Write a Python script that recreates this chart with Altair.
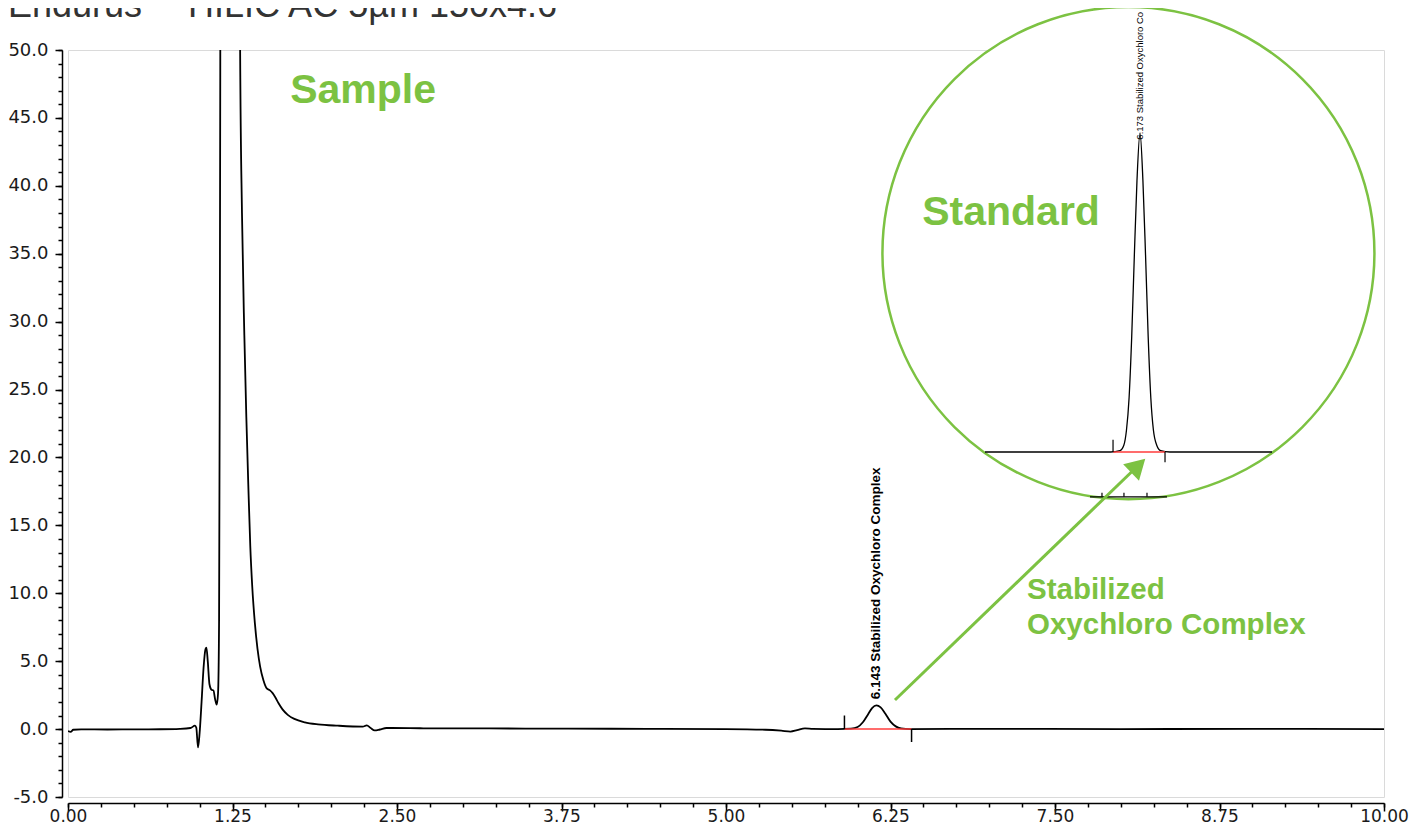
import altair as alt
import pandas as pd

GREEN = "#7cc242"
FONT = "Liberation Sans"
TICK_FONT = "DejaVu Sans"

# ---------------- data ----------------
# Sample chromatogram (time in min, signal in mAU)
sample_time = [0.00, 0.02, 0.04, 0.10, 0.30, 0.50, 0.70, 0.85, 0.93, 0.965, 0.975, 0.988,
               1.000, 1.015, 1.030, 1.045, 1.052, 1.062, 1.075, 1.090, 1.105, 1.118, 1.130,
               1.140, 1.148, 1.153, 1.157, 1.160, 1.230, 1.300, 1.308, 1.322, 1.340, 1.355,
               1.370, 1.385, 1.400, 1.420, 1.440, 1.460, 1.485, 1.510, 1.535, 1.555, 1.575,
               1.600, 1.630, 1.670, 1.720, 1.800, 1.900, 2.050, 2.240, 2.270, 2.300, 2.330,
               2.370, 2.420, 2.700, 3.200, 3.800, 4.400, 5.000, 5.300, 5.420, 5.490, 5.540,
               5.600, 5.660, 5.850, 5.950, 6.000, 6.040, 6.080, 6.110, 6.143, 6.175, 6.210,
               6.250, 6.290, 6.330, 6.400, 7.000, 8.000, 9.000, 10.000]
sample_signal = [-0.15, -0.2, -0.05, -0.02, -0.03, -0.02, -0.01, 0.02, 0.08, 0.25, 0.1, -1.35,
                 -0.3, 2.0, 4.5, 5.9, 6.0, 5.0, 3.3, 2.9, 2.85, 2.2, 1.8,
                 2.6, 8.0, 25.0, 48.0, 70.0, 150.0, 70.0, 50.0, 38.0, 29.0, 23.0,
                 18.0, 13.5, 10.5, 7.8, 5.9, 4.6, 3.6, 3.0, 2.85, 2.65, 2.35,
                 1.9, 1.45, 1.05, 0.75, 0.5, 0.35, 0.25, 0.18, 0.28, 0.08, -0.1,
                 -0.03, 0.08, 0.06, 0.05, 0.03, 0.02, 0.0, -0.05, -0.12, -0.18, -0.08,
                 0.05, 0.02, 0.0, 0.03, 0.15, 0.5, 1.1, 1.55, 1.75, 1.6, 1.15,
                 0.55, 0.2, 0.05, 0.0, 0.02, 0.0, 0.02, 0.0]

# Standard chromatogram shown in the circular inset
std_time = [4.995, 5.500, 5.950, 6.020, 6.050, 6.070, 6.090, 6.110, 6.130, 6.150, 6.173,
            6.195, 6.215, 6.235, 6.255, 6.275, 6.300, 6.330, 6.400, 7.176]
std_signal = [0.0, 0.0, 0.0, 0.1, 0.5, 1.6, 4.0, 8.5, 14.5, 20.0, 23.5,
              20.0, 14.5, 8.5, 4.0, 1.6, 0.5, 0.1, 0.0, 0.0]

# Peak labels / integration marks
peak_labels = ["6.143  Stabilized Oxychloro Complex"]
peak_label_time = [6.143]
std_label = ["6.173  Stabilized Oxychloro Complex"]
sample_int_start, sample_int_end = 5.90, 6.41
std_int_start, std_int_end = 5.968, 6.363

# Axis ticks
x_major = [0.0, 1.25, 2.5, 3.75, 5.0, 6.25, 7.5, 8.75, 10.0]
x_minor = [i * 0.25 for i in range(41)]
y_major = [-5, 0, 5, 10, 15, 20, 25, 30, 35, 40, 45, 50]
y_minor = list(range(-5, 51))

chart_title = "Endurus\u2122 HILIC AC 5\u00b5m 150x4.6"

X_DOM = [0, 10]
Y_DOM = [-5, 50]
IX_DOM = [-1.973, 8.027]
IY_DOM = [-25.4, 29.6]

# ---------------- helpers ----------------
def xs(dom):
    return alt.Scale(domain=dom, nice=False, zero=False)


def X(field, dom=X_DOM, axis=None):
    return alt.X(field, type="quantitative", scale=xs(dom), axis=axis)


def Y(field, dom=Y_DOM, axis=None):
    return alt.Y(field, type="quantitative", scale=xs(dom), axis=axis)


sample_df = pd.DataFrame({"t": sample_time, "v": sample_signal})
std_df = pd.DataFrame({"t": std_time, "v": std_signal})

ax_common = dict(title=None, grid=False, tickColor="black", domainColor="black",
                 tickWidth=1.5, domainWidth=1.5, labelFont=TICK_FONT,
                 labelColor="#1a1a1a", offset=6)

x_axis_major = alt.Axis(values=x_major, format=".2f", orient="bottom", tickSize=8,
                        labelPadding=-3, labelFontSize=17, labelFlush=False,
                        labelOverlap=False, **ax_common)
x_axis_minor = alt.Axis(values=x_minor, labels=False, domain=False, orient="bottom",
                        tickSize=4, **ax_common)
y_axis_major = alt.Axis(values=y_major, orient="left", tickSize=7,
                        labelExpr="replace(format(datum.value, '.1f'), '\u2212', '-')",
                        labelPadding=7, labelFontSize=18, labelFlush=False,
                        labelOverlap=False, **ax_common)
y_axis_minor = alt.Axis(values=y_minor, labels=False, domain=False, orient="left",
                        tickSize=4, **ax_common)

# ---------------- main (sample) layers ----------------
trace = alt.Chart(sample_df).mark_line(color="black", strokeWidth=1.8, clip=True,
                                        interpolate="monotone").encode(
    x=X("t", axis=x_axis_major), y=Y("v", axis=y_axis_major))

minor = alt.Chart(sample_df).mark_line(strokeOpacity=0).encode(
    x=X("t", axis=x_axis_minor), y=Y("v", axis=y_axis_minor))

red_df = pd.DataFrame({"t": [sample_int_start], "t2": [sample_int_end], "v": [0.0]})
red = alt.Chart(red_df).mark_rule(color="#ff3b3b", strokeWidth=1.5).encode(
    x=X("t"), x2="t2", y=Y("v"))

mark_df = pd.DataFrame({"t": [sample_int_start, sample_int_end],
                        "v": [0.0, 0.0], "v2": [1.0, -0.95]})
marks = alt.Chart(mark_df).mark_rule(color="black", strokeWidth=1.5).encode(
    x=X("t"), y=Y("v"), y2="v2")

lab_df = pd.DataFrame({"t": peak_label_time, "v": [2.2], "txt": peak_labels})
peak_lab = alt.Chart(lab_df).mark_text(angle=270, align="left", baseline="middle",
                                       font=FONT, fontSize=13.5, fontWeight="bold",
                                       color="black").encode(
    x=X("t"), y=Y("v"), text="txt:N")

main_below = alt.layer(trace, minor, red, marks, peak_lab).resolve_axis(
    x="independent", y="independent")

# ---------------- circle + inset (standard) ----------------
circ_df = pd.DataFrame({"t": [8.058], "v": [35.05]})
circle = alt.Chart(circ_df).mark_point(shape="circle", size=492 ** 2, filled=True,
                                       fill="white", stroke=GREEN, strokeWidth=2.5,
                                       opacity=1).encode(x=X("t"), y=Y("v"))

std_line = alt.Chart(std_df).mark_line(color="black", strokeWidth=1.3,
                                       interpolate="monotone").encode(
    x=X("t", IX_DOM), y=Y("v", IY_DOM))

std_red_df = pd.DataFrame({"t": [std_int_start], "t2": [std_int_end], "v": [0.0]})
std_red = alt.Chart(std_red_df).mark_rule(color="#ff3b3b", strokeWidth=1.5).encode(
    x=X("t", IX_DOM), x2="t2", y=Y("v", IY_DOM))

std_mark_df = pd.DataFrame({"t": [std_int_start, std_int_end], "v": [0.0, 0.0],
                            "v2": [0.9, -0.75]})
std_marks = alt.Chart(std_mark_df).mark_rule(color="black", strokeWidth=1.2).encode(
    x=X("t", IX_DOM), y=Y("v", IY_DOM), y2="v2")

std_lab_df = pd.DataFrame({"t": [6.173], "v": [23.0], "txt": std_label})
std_lab = alt.Chart(std_lab_df).mark_text(angle=270, align="left", baseline="middle",
                                          font=FONT, fontSize=9.5, color="black",
                                          limit=131, ellipsis="\u200b").encode(
    x=X("t", IX_DOM), y=Y("v", IY_DOM), text="txt:N")

std_ax_df = pd.DataFrame({"t": [5.793], "t2": [6.378], "v": [-3.3]})
std_ax = alt.Chart(std_ax_df).mark_rule(color="black", strokeWidth=1.2).encode(
    x=X("t", IX_DOM), x2="t2", y=Y("v", IY_DOM))
std_tick_df = pd.DataFrame({"t": [5.884, 6.051, 6.226], "v": [-3.3] * 3, "v2": [-3.0] * 3})
std_ticks = alt.Chart(std_tick_df).mark_rule(color="black", strokeWidth=1.2).encode(
    x=X("t", IX_DOM), y=Y("v", IY_DOM), y2="v2")

inset = alt.layer(std_ax, std_ticks, std_line, std_red, std_marks, std_lab)

# ---------------- annotations on top ----------------
arrow_df = pd.DataFrame({"t": [6.284, 8.091], "v": [2.14, 19.02]})
arrow = alt.Chart(arrow_df).mark_line(color=GREEN, strokeWidth=3).encode(
    x=X("t"), y=Y("v"))
head_df = pd.DataFrame({"t": [8.132], "v": [19.40]})
head = alt.Chart(head_df).mark_point(shape="triangle-up", size=520, angle=46, filled=True,
                                     color=GREEN, opacity=1).encode(x=X("t"), y=Y("v"))

big_df = pd.DataFrame({"t": [2.242, 7.166], "v": [46.98, 38.0], "txt": ["Sample", "Standard"]})
big = alt.Chart(big_df).mark_text(font=FONT, fontSize=41, fontWeight="bold", color=GREEN,
                                  align="center", baseline="middle").encode(
    x=X("t"), y=Y("v"), text="txt:N")

stab_df = pd.DataFrame({"t": [7.287, 7.287], "v": [10.24, 7.67],
                        "txt": ["Stabilized", "Oxychloro Complex"]})
stab = alt.Chart(stab_df).mark_text(font=FONT, fontSize=29.5, fontWeight="bold", color=GREEN,
                                    align="left", baseline="middle").encode(
    x=X("t"), y=Y("v"), text="txt:N")

title_df = pd.DataFrame({"t": [-0.456], "v": [52.43], "txt": [chart_title]})
title = alt.Chart(title_df).mark_text(font=FONT, fontSize=36, color="#333333",
                                      align="left", baseline="alphabetic").encode(
    x=X("t"), y=Y("v"), text="txt:N")

main_above = alt.layer(arrow, head, big, stab, title)

chart = alt.layer(main_below, circle, inset, main_above).resolve_scale(
    x="independent", y="independent"
).properties(
    width=1316, height=747,
    autosize=alt.AutoSizeParams(type="none"),
    padding={"left": 60, "top": 42, "right": 26, "bottom": 32},
).configure_view(stroke="#dadada", strokeWidth=1)

chart.save("out.html", embed_options={"renderer": "svg", "actions": False})
